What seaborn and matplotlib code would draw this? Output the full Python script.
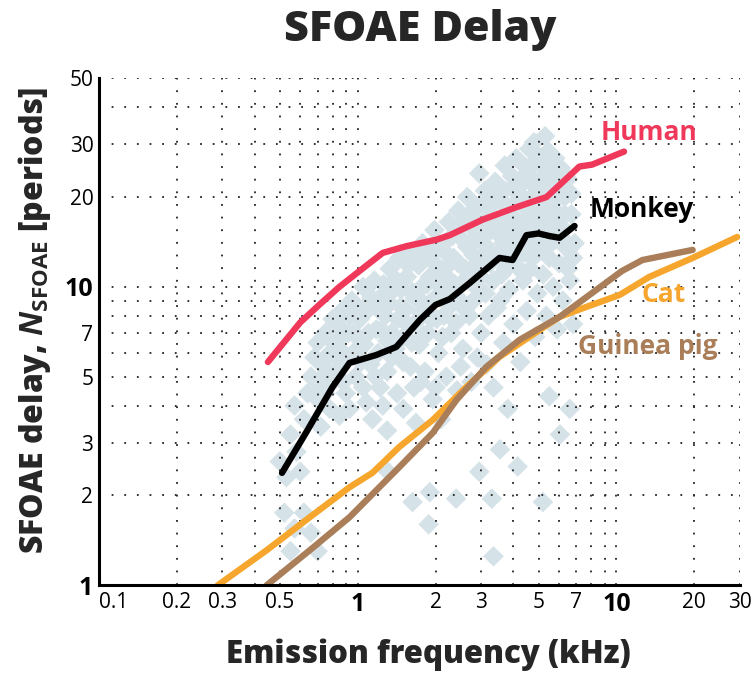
import matplotlib
matplotlib.use("Agg")
import matplotlib.pyplot as plt
import seaborn as sns

# ── Average delay curves (frequency in kHz, delay in periods) ──
human_khz = [0.45, 0.60, 0.71, 0.85, 0.99, 1.25, 1.55, 2.02, 2.27, 3.04, 4.11, 5.37, 7.19, 8.07, 10.7]
human_n   = [5.6, 7.6, 8.7, 10.0, 11.1, 13.0, 13.7, 14.4, 14.9, 16.8, 18.5, 20.0, 25.3, 25.7, 28.4]

monkey_khz = [0.51, 0.64, 0.80, 0.93, 1.18, 1.41, 1.74, 2.00, 2.27, 2.71, 3.53, 3.97, 4.49, 5.0, 5.51, 6.03, 6.89]
monkey_n   = [2.38, 3.31, 4.62, 5.56, 5.91, 6.29, 7.75, 8.7, 9.1, 10.3, 12.5, 12.3, 14.9, 15.1, 14.8, 14.6, 16.0]

cat_khz = [0.288, 0.445, 0.653, 0.93, 1.14, 1.45, 1.95, 2.63, 3.53, 5.05, 6.03, 7.66, 10.3, 13.4, 19.7, 29.3]
cat_n   = [1.0, 1.31, 1.69, 2.13, 2.38, 2.91, 3.58, 4.62, 5.82, 7.17, 7.93, 8.57, 9.4, 10.8, 12.5, 14.7]

gpig_khz = [0.445, 0.653, 0.93, 1.45, 1.95, 2.41, 3.14, 4.22, 6.03, 8.07, 10.5, 12.6, 19.7]
gpig_n   = [1.0, 1.31, 1.69, 2.49, 3.24, 4.18, 5.39, 6.64, 7.93, 9.55, 11.3, 12.3, 13.3]

# ── Individual monkey measurements: spread / outliers ──
pts_khz = [
    0.50, 0.53, 0.55, 0.57, 0.58, 0.52, 0.57, 0.62, 0.66, 0.70, 0.55, 0.60, 0.62, 0.64,
    0.66, 0.68, 0.70, 0.72, 0.74, 0.75, 0.78, 0.80, 0.78, 0.72,
    0.82, 0.84, 0.86, 0.88, 0.90, 0.92, 0.95, 0.96, 0.98, 0.85, 0.93,
    1.02, 1.05, 1.06, 1.08, 1.10, 1.12, 1.14, 1.16, 1.18, 1.20, 1.22, 1.25, 1.28, 1.28, 1.30, 1.30,
    1.33, 1.35, 1.38, 1.40, 1.42, 1.45, 1.47, 1.50, 1.50, 1.55, 1.58, 1.60, 1.62, 1.63, 1.65, 1.66, 1.68,
    1.72, 1.75, 1.78, 1.80, 1.82, 1.85, 1.88, 1.90, 1.90, 1.92, 1.95, 1.98, 2.00, 2.05, 2.08, 2.10, 2.12, 2.15, 2.20,
    2.25, 2.28, 2.30, 2.35, 2.40, 2.42, 2.45, 2.50, 2.52, 2.55, 2.60, 2.65, 2.70, 2.72, 2.75, 2.80, 2.85, 2.90, 2.95, 2.95, 3.00,
    3.05, 3.10, 3.12, 3.15, 3.20, 3.25, 3.30, 3.35, 3.35, 3.40, 3.45, 3.50, 3.55, 3.55, 3.60, 3.65, 3.70, 3.75, 3.80, 3.85, 3.90, 3.95, 4.00,
    4.05, 4.10, 4.15, 4.20, 4.25, 4.30, 4.35, 4.40, 4.45, 4.50, 4.55, 4.60, 4.65, 4.70, 4.75, 4.80, 4.85, 4.90, 4.95,
    5.00, 5.05, 5.10, 5.20, 5.20, 5.25, 5.30, 5.35, 5.40, 5.45, 5.50, 5.50, 5.60, 5.65, 5.70, 5.75, 5.80, 5.90, 5.95,
    6.00, 6.05, 6.10, 6.20, 6.30, 6.40, 6.50, 6.60, 6.60, 6.70, 6.80, 6.90,
]
pts_n = [
    2.6, 2.3, 3.2, 4.0, 2.8, 1.75, 1.55, 1.75, 1.5, 1.3, 1.3, 2.4, 3.6, 4.4,
    5.0, 5.8, 6.5, 4.6, 5.4, 7.0, 6.0, 4.8, 3.9, 3.4,
    7.6, 6.6, 5.6, 8.4, 4.4, 7.0, 9.0, 6.0, 5.0, 3.7, 3.9,
    7.8, 10.0, 6.4, 4.1, 8.8, 5.5, 3.6, 10.5, 7.2, 6.0, 4.6, 9.4, 8.0, 2.45, 5.2, 3.3,
    11.5, 7.0, 9.8, 6.2, 4.4, 12.5, 8.6, 5.6, 3.9, 10.8, 7.4, 13.0, 6.5, 1.9, 4.6, 9.2, 3.5,
    11.8, 8.2, 14.0, 6.9, 5.2, 10.2, 1.6, 2.05, 12.8, 7.8, 4.2, 15.5, 9.2, 6.0, 11.2, 3.6, 13.8, 8.0, 5.0,
    16.5, 10.5, 7.0, 12.5, 1.95, 4.5, 18.0, 9.0, 14.5, 6.2, 11.5, 20.0, 8.0, 16.0, 4.8, 12.8, 10.0, 18.5, 24.0, 2.4, 7.0,
    14.0, 21.0, 9.5, 5.5, 17.0, 12.0, 1.95, 4.6, 1.25, 22.5, 8.5, 15.0, 2.85, 19.5, 11.0, 6.5, 25.5, 13.5, 3.9, 9.8, 17.5, 21.5, 7.5,
    12.5, 27.0, 2.5, 15.5, 5.6, 20.0, 10.5, 23.5, 13.5, 8.3, 18.0, 29.0, 11.5, 25.5, 16.0, 30.5, 6.8, 21.5, 9.5,
    14.0, 26.0, 18.5, 1.9, 11.0, 23.0, 32.0, 8.0, 16.5, 28.5, 4.3, 12.5, 20.5, 25.0, 10.0, 14.8, 18.0, 7.2, 22.0,
    12.0, 3.2, 16.0, 9.0, 20.0, 13.5, 23.0, 3.9, 10.5, 17.5, 7.5, 14.0,
]

# ── Individual monkey measurements: dense core of the cloud ──
core_khz = [
    0.70, 0.73, 0.76, 0.79, 0.82, 0.85, 0.87, 0.90, 0.93, 0.96, 0.99, 0.75, 0.80, 0.88,
    1.00, 1.03, 1.07, 1.10, 1.13, 1.17, 1.20, 1.23, 1.26, 1.30, 1.33, 1.36, 1.40, 1.43, 1.47, 1.50, 1.05, 1.25,
    1.53, 1.57, 1.60, 1.63, 1.67, 1.70, 1.73, 1.77, 1.80, 1.83, 1.87, 1.90, 1.95, 1.98, 2.02, 2.05, 2.10, 2.13, 2.17, 2.20, 1.75, 2.00,
    2.23, 2.27, 2.32, 2.37, 2.40, 2.45, 2.50, 2.55, 2.60, 2.65, 2.70, 2.75, 2.80, 2.85, 2.90, 2.95, 3.00, 3.05, 3.10, 3.15, 3.20, 2.50, 2.90,
    3.25, 3.30, 3.35, 3.40, 3.45, 3.50, 3.55, 3.60, 3.65, 3.70, 3.75, 3.80, 3.85, 3.90, 3.95, 4.00, 4.10, 4.15, 4.20, 4.30, 4.35, 4.40, 4.45, 4.50,
    4.60, 4.70, 4.75, 4.80, 4.90, 5.00, 5.00, 5.10, 5.20, 5.30, 5.40, 5.50, 5.60, 5.70, 5.80, 5.90, 6.00, 6.10, 6.20, 6.30, 6.40, 6.50, 6.70, 6.80,
]
core_n = [
    4.2, 5.0, 5.8, 6.6, 5.2, 6.2, 7.2, 5.8, 8.0, 7.0, 8.4, 4.4, 7.8, 4.8,
    6.8, 5.6, 8.2, 7.0, 9.2, 5.0, 8.4, 7.2, 10.2, 6.6, 8.8, 5.8, 10.6, 7.8, 9.8, 6.8, 4.6, 4.0,
    8.4, 11.8, 5.4, 9.6, 7.6, 12.6, 6.4, 10.0, 8.8, 13.0, 7.0, 10.8, 9.0, 12.0, 7.8, 13.5, 10.0, 6.8, 11.5, 9.4, 4.8, 4.6,
    12.8, 8.6, 14.8, 10.2, 7.6, 12.0, 16.2, 10.4, 8.4, 13.6, 17.5, 11.0, 9.0, 14.5, 12.0, 16.5, 10.8, 19.0, 12.8, 15.0, 8.0, 5.4, 5.8,
    18.5, 13.0, 10.5, 16.0, 20.0, 12.5, 9.0, 17.0, 14.0, 21.0, 11.5, 18.5, 15.5, 12.5, 23.5, 17.0, 14.0, 19.5, 11.5, 22.0, 16.5, 13.0, 19.5, 25.0,
    15.0, 20.0, 12.5, 23.0, 17.5, 27.5, 19.5, 13.5, 21.0, 16.0, 24.0, 19.0, 14.0, 22.5, 27.0, 17.0, 20.0, 25.0, 14.5, 17.5, 21.0, 11.5, 20.5, 12.5,
]

x_major = [0.1, 0.2, 0.3, 0.5, 1, 2, 3, 5, 7, 10, 20, 30]
x_minor = [0.4, 0.6, 0.7, 0.8, 0.9, 4, 6, 8, 9]
y_major = [1, 2, 3, 5, 7, 10, 20, 30, 50]
y_minor = [4, 6, 8, 9, 40]

sns.set_theme(style="white")
plt.rcParams["font.family"] = ["Open Sans", "DejaVu Sans"]
plt.rcParams["mathtext.fontset"] = "custom"
plt.rcParams["mathtext.rm"] = "Open Sans:bold"
plt.rcParams["mathtext.it"] = "Open Sans:bold:italic"

fig = plt.figure(figsize=(7.55, 6.75), dpi=100)
ax = fig.add_axes([0.131, 0.133, 0.849, 0.751])

sns.scatterplot(x=pts_khz + core_khz, y=pts_n + core_n, marker="D", s=110,
                color="#d5e2e8", edgecolor="none", linewidth=0, ax=ax, zorder=1)

curves = [
    (human_khz, human_n, "#f0385a"),
    (monkey_khz, monkey_n, "#000000"),
    (cat_khz, cat_n, "#f6a62c"),
    (gpig_khz, gpig_n, "#a97e58"),
]
for xs, ys, col in curves:
    sns.lineplot(x=xs, y=ys, sort=False, estimator=None, color=col,
                 linewidth=4.6, ax=ax, zorder=3)

ax.set_xscale("log")
ax.set_yscale("log")
ax.set_xlim(0.1, 30)
ax.set_ylim(1, 50)

ax.set_xticks(x_major)
ax.set_xticklabels([f"{v:g}" for v in x_major])
ax.set_xticks(x_minor, minor=True)
ax.set_xticklabels([], minor=True)
ax.set_yticks(y_major)
ax.set_yticklabels([f"{v:g}" for v in y_major])
ax.set_yticks(y_minor, minor=True)
ax.set_yticklabels([], minor=True)

ax.set_axisbelow(False)
ax.grid(True, which="both", color="#222222", linestyle=(0, (1, 6)),
        linewidth=1.3, zorder=2)
ax.tick_params(which="both", length=0, labelsize=15, colors="black")
ax.tick_params(axis="x", pad=5)
ax.tick_params(axis="y", pad=4)

for lab in ax.get_xticklabels() + ax.get_yticklabels():
    if lab.get_text() in ("1", "10"):
        lab.set_fontweight("bold")
        lab.set_fontsize(18)
# first x label sits just right of the corner, as in the original
ax.get_xticklabels()[0].set_horizontalalignment("left")

for side in ("top", "right"):
    ax.spines[side].set_visible(False)
for side in ("left", "bottom"):
    ax.spines[side].set_color("black")
    ax.spines[side].set_linewidth(2.2)
    ax.spines[side].set_zorder(4)

ax.text(13.4, 33.0, "Human", color="#f0385a", fontsize=19, fontweight="bold",
        ha="center", va="center", zorder=5)
ax.text(12.5, 18.1, "Monkey", color="black", fontsize=19, fontweight="bold",
        ha="center", va="center", zorder=5)
ax.text(15.2, 9.4, "Cat", color="#f6a62c", fontsize=19, fontweight="bold",
        ha="center", va="center", zorder=5)
ax.text(13.2, 6.3, "Guinea pig", color="#a97e58", fontsize=19, fontweight="bold",
        ha="center", va="center", zorder=5)

fig.text(0.556, 0.955, "SFOAE Delay", fontsize=31, fontweight="heavy",
         ha="center", va="center")
fig.text(0.568, 0.030, "Emission frequency (kHz)", fontsize=22.5, fontweight="heavy",
         ha="center", va="center")
fig.text(0.046, 0.525, r"SFOAE delay, $N_{\mathrm{SFOAE}}$ [periods]", fontsize=23,
         fontweight="heavy", rotation=90, ha="center", va="center")

fig.savefig("out.png", dpi=100)
